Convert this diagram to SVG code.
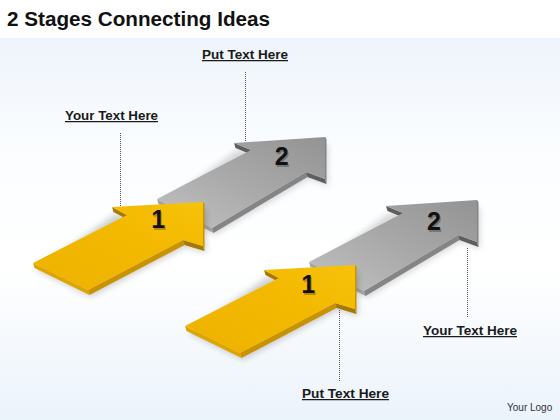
<svg xmlns="http://www.w3.org/2000/svg" xmlns:xlink="http://www.w3.org/1999/xlink" width="560" height="420" viewBox="0 0 560 420">
<style>
.title{font-family:"Liberation Sans",Arial,sans-serif;font-weight:bold;font-size:20px;fill:#111}
.lbl{font-family:"Liberation Sans",Arial,sans-serif;font-weight:bold;font-size:12.5px;fill:#1a1a1a;text-decoration:underline}
.num{font-family:"Liberation Sans",Arial,sans-serif;font-weight:bold;font-size:25px;fill:#111;text-anchor:middle}
.numsh{font-family:"Liberation Sans",Arial,sans-serif;font-weight:bold;font-size:25px;fill:#000;opacity:0.25;text-anchor:middle}
.logo{font-family:"Liberation Sans",Arial,sans-serif;font-size:10px;fill:#333}
.lead{stroke:#555;stroke-width:1;stroke-dasharray:1 1;fill:none}
.ys1{fill:#dea400}.ys2{fill:#c99200}.ys3{fill:#a87900}
.gs1{fill:#a3a3a3}.gs2{fill:#858585}.gs3{fill:#5e5e5e}
</style>
<defs>
<linearGradient id="bg" x1="0" y1="0" x2="0" y2="1">
<stop offset="0" stop-color="#eef4fb"/>
<stop offset="0.3" stop-color="#fbfdff"/>
<stop offset="0.6" stop-color="#ffffff"/>
<stop offset="1" stop-color="#ebf3fb"/>
</linearGradient>
<linearGradient id="yg" x1="0" y1="1" x2="1" y2="0">
<stop offset="0" stop-color="#eeb200"/>
<stop offset="0.6" stop-color="#f3b900"/>
<stop offset="1" stop-color="#f6c20a"/>
</linearGradient>
<linearGradient id="gg" x1="0" y1="1" x2="1" y2="0">
<stop offset="0" stop-color="#c2c2c2"/>
<stop offset="0.5" stop-color="#a9a9a9"/>
<stop offset="1" stop-color="#939393"/>
</linearGradient>
<filter id="sh" x="-20%" y="-20%" width="140%" height="160%">
<feGaussianBlur stdDeviation="3"/>
</filter>
<g id="yArrow">
<polygon points="36,270 91,297 186,247 206,253 206,209 115,214" fill="#000" opacity="0.18" filter="url(#sh)"/>
<polygon class="ys1" points="33,263 88,290 89.5,295 34.5,268"/>
<polygon class="ys2" points="88,290 183,240 184.5,245 89.5,295"/>
<polygon class="ys3" points="183,240 203,246 204.5,251 184.5,245"/>
<polygon class="ys2" points="203,246 203,202 204.5,204 204.5,251"/>
<polygon class="ys3" points="112,207 127,215 128.5,220 113.5,212"/>
<polygon fill="url(#yg)" points="33,263 88,290 183,240 203,246 203,202 112,207 127,215"/>
</g>
<g id="gArrow">
<polygon points="160,206 215,235 309,179 328,186 328,144 237,150" fill="#000" opacity="0.15" filter="url(#sh)"/>
<polygon class="gs1" points="157,199 212,228 213.5,233 158.5,204"/>
<polygon class="gs2" points="212,228 306,172 307.5,177 213.5,233"/>
<polygon class="gs3" points="306,172 325,179 326.5,184 307.5,177"/>
<polygon class="gs2" points="325,179 325,137 326.5,139 326.5,184"/>
<polygon class="gs3" points="234,143 251,150 252.5,155 235.5,148"/>
<polygon fill="url(#gg)" points="157,199 212,228 306,172 325,179 325,137 234,143 251,150"/>
</g>
</defs>
<rect x="0" y="0" width="560" height="420" fill="#ffffff"/>
<rect x="0" y="38" width="560" height="382" fill="url(#bg)"/>
<text class="title" x="7" y="26" textLength="263" lengthAdjust="spacingAndGlyphs">2 Stages Connecting Ideas</text>
<g id="connectors">
<line class="lead" x1="245.5" y1="72" x2="245.5" y2="142"/>
<line class="lead" x1="120.5" y1="133" x2="120.5" y2="206"/>
<line class="lead" x1="467.5" y1="248" x2="467.5" y2="318"/>
<line class="lead" x1="339.5" y1="310" x2="339.5" y2="382"/>
</g>
<g id="stage2-top">
<use xlink:href="#gArrow"/>
<text class="numsh" x="283" y="166.5">2</text>
<text class="num" x="281.7" y="165">2</text>
</g>
<g id="stage1-top">
<use xlink:href="#yArrow"/>
<text class="numsh" x="159.5" y="229.5">1</text>
<text class="num" x="158.3" y="228">1</text>
</g>
<g id="stage2-bottom">
<use xlink:href="#gArrow" transform="translate(152,63)"/>
<text class="numsh" x="435.3" y="231.5">2</text>
<text class="num" x="434" y="230">2</text>
</g>
<g id="stage1-bottom">
<use xlink:href="#yArrow" transform="translate(152,63)"/>
<text class="numsh" x="309.5" y="294.5">1</text>
<text class="num" x="308.3" y="293">1</text>
</g>
<g id="label-put-top"><text class="lbl" x="202" y="59" textLength="86" lengthAdjust="spacingAndGlyphs">Put Text Here</text></g>
<g id="label-your-top"><text class="lbl" x="65" y="120" textLength="93" lengthAdjust="spacingAndGlyphs">Your Text Here</text></g>
<g id="label-your-bottom"><text class="lbl" x="423" y="335" textLength="94" lengthAdjust="spacingAndGlyphs">Your Text Here</text></g>
<g id="label-put-bottom"><text class="lbl" x="302" y="398" textLength="87" lengthAdjust="spacingAndGlyphs">Put Text Here</text></g>
<text class="logo" x="507" y="411">Your Logo</text>
</svg>
